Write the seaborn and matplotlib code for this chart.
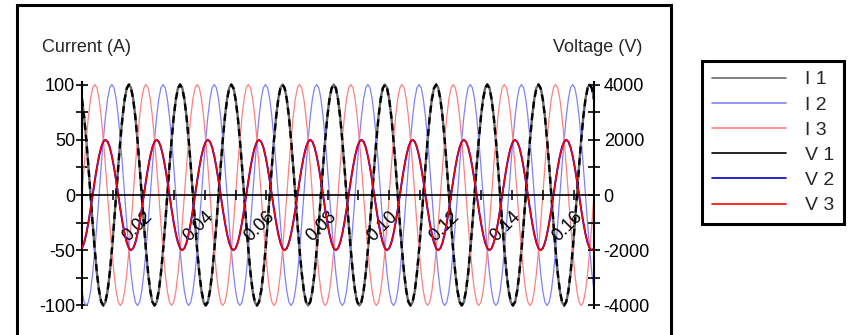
import numpy as np
import pandas as pd
import matplotlib
matplotlib.use("Agg")
import matplotlib.pyplot as plt
from matplotlib.lines import Line2D
from matplotlib.patches import Rectangle
from matplotlib.ticker import MultipleLocator
import seaborn as sns

FREQ_HZ = 60
SAMPLES_PER_CYCLE = 24
N_CYCLES = 10

i1_cycle = [87, 71, 50, 26, 0, -26, -50, -71, -87, -97, -100, -97,
            -87, -71, -50, -26, 0, 26, 50, 71, 87, 97, 100, 97]
i2_cycle = [-87, -97, -100, -97, -87, -71, -50, -26, 0, 26, 50, 71,
            87, 97, 100, 97, 87, 71, 50, 26, 0, -26, -50, -71]
i3_cycle = [0, 26, 50, 71, 87, 97, 100, 97, 87, 71, 50, 26,
            0, -26, -50, -71, -87, -97, -100, -97, -87, -71, -50, -26]
v1_cycle = [3460, 2830, 2000, 1040, 0, -1040, -2000, -2830, -3460, -3860, -4000, -3860,
            -3460, -2830, -2000, -1040, 0, 1040, 2000, 2830, 3460, 3860, 4000, 3860]
v2_cycle = [-1930, -1730, -1410, -1000, -520, 0, 520, 1000, 1410, 1730, 1930, 2000,
            1930, 1730, 1410, 1000, 520, 0, -520, -1000, -1410, -1730, -1930, -2000]
v3_cycle = [-1930, -1730, -1410, -1000, -520, 0, 520, 1000, 1410, 1730, 1930, 2000,
            1930, 1730, 1410, 1000, 520, 0, -520, -1000, -1410, -1730, -1930, -2000]

series_labels = ["I 1", "I 2", "I 3", "V 1", "V 2", "V 3"]
series_colors = ["#6a6a6a", "#8080ff", "#ff8080", "#000000", "#0000cc", "#ff0000"]

xtick_values = [0.02, 0.04, 0.06, 0.08, 0.10, 0.12, 0.14, 0.16]
xtick_labels = ["0.02", "0.04", "0.06", "0.08", "0.10", "0.12", "0.14", "0.16"]
current_ticks = [-100, -50, 0, 50, 100]
current_labels = ["-100", "-50", "0", "50", "100"]
voltage_ticks = [-4000, -2000, 0, 2000, 4000]
voltage_labels = ["-4000", "-2000", "0", "2000", "4000"]

# ---------------- build the long time series ----------------
n = SAMPLES_PER_CYCLE * N_CYCLES
t = np.arange(n + 1) / (FREQ_HZ * SAMPLES_PER_CYCLE)


def expand(cycle):
    arr = np.tile(np.asarray(cycle, dtype=float), N_CYCLES)
    return np.append(arr, cycle[0])


df = pd.DataFrame({
    "t": t,
    "I1": expand(i1_cycle), "I2": expand(i2_cycle), "I3": expand(i3_cycle),
    "V1": expand(v1_cycle), "V2": expand(v2_cycle), "V3": expand(v3_cycle),
})

# ---------------- style ----------------
sns.set_style("white")
plt.rcParams["font.family"] = ["Liberation Sans", "DejaVu Sans"]

W, H = 852, 335
fig = plt.figure(figsize=(W / 100, H / 100), dpi=100)
ax = fig.add_axes([82 / W, 1 - 307.7 / H, (594 - 82) / W, (307.7 - 82.3) / H])
ax2 = ax.twinx()

# current lines (left axis)
sns.lineplot(data=df, x="t", y="I1", ax=ax, color=series_colors[0], lw=1.7, legend=False)
sns.lineplot(data=df, x="t", y="I2", ax=ax, color=series_colors[1], lw=0.9, legend=False)
sns.lineplot(data=df, x="t", y="I3", ax=ax, color=series_colors[2], lw=0.9, legend=False)
# voltage lines (right axis)
sns.lineplot(data=df, x="t", y="V1", ax=ax2, color=series_colors[3], lw=1.7,
             legend=False)
ax2.lines[-1].set_dashes((3, 2))
sns.lineplot(data=df, x="t", y="V2", ax=ax2, color=series_colors[4], lw=1.4, legend=False)
sns.lineplot(data=df, x="t", y="V3", ax=ax2, color=series_colors[5], lw=1.1, legend=False)

ax.set_xlim(0, 1 / 6)
ax.set_ylim(-102, 102)
ax2.set_ylim(-4080, 4080)
for a in (ax, ax2):
    a.set_xlabel("")
    a.set_ylabel("")
    a.grid(False)

# spines
for s in ("top", "bottom", "right"):
    ax.spines[s].set_visible(False)
for s in ("top", "left"):
    ax2.spines[s].set_visible(False)
ax.spines["left"].set_linewidth(1.5)
ax.spines["left"].set_color("black")
ax2.spines["right"].set_linewidth(1.5)
ax2.spines["right"].set_color("black")
ax2.spines["bottom"].set_visible(True)
ax2.spines["bottom"].set_position(("data", 0))
ax2.spines["bottom"].set_linewidth(1.2)
ax2.spines["bottom"].set_color("black")

# y ticks
ax.set_yticks(current_ticks, labels=current_labels)
ax.yaxis.set_minor_locator(MultipleLocator(25))
ax.tick_params(axis="y", which="both", direction="inout", length=8, width=1.2,
               labelsize=13, pad=1, colors="black", left=True)
ax2.set_yticks(voltage_ticks, labels=voltage_labels)
ax2.yaxis.set_minor_locator(MultipleLocator(1000))
ax2.tick_params(axis="y", which="both", direction="inout", length=8, width=1.2,
                labelsize=13, pad=3, colors="black", right=True)

# x ticks on the zero line
ax.tick_params(axis="x", which="both", bottom=False, labelbottom=False)
ax2.xaxis.set_visible(True)
ax2.set_xticks(xtick_values)
ax2.set_xticklabels(xtick_labels, rotation=45, ha="right", rotation_mode="anchor")
ax2.xaxis.set_minor_locator(MultipleLocator(0.01))
ax2.tick_params(axis="x", which="both", direction="inout", length=7, width=1.1,
                labelsize=13, pad=6, bottom=True, labelbottom=True, colors="black")

# axis titles
fig.text(42 / W, 1 - 47 / H, "Current (A)", fontsize=13, ha="left", va="center")
fig.text(642 / W, 1 - 47 / H, "Voltage (V)", fontsize=13, ha="right", va="center")

# outer frame
fig.add_artist(Rectangle((17 / W, -0.05), (671 - 17) / W, 1 - 5 / H + 0.05,
                         transform=fig.transFigure, fill=False, lw=2.2,
                         edgecolor="black"))

# legend
handles = [Line2D([0], [0], color=c, lw=1.2) for c in series_colors]
leg = fig.legend(handles, series_labels, loc="upper left",
                 bbox_to_anchor=(702 / W, 1 - 61 / H), borderaxespad=0,
                 fontsize=14, handlelength=3.8, handletextpad=1.0,
                 labelspacing=0.39, borderpad=0.5, fancybox=False,
                 framealpha=1, edgecolor="black")
leg.get_frame().set_linewidth(2.2)

fig.savefig("out.png", dpi=100)
